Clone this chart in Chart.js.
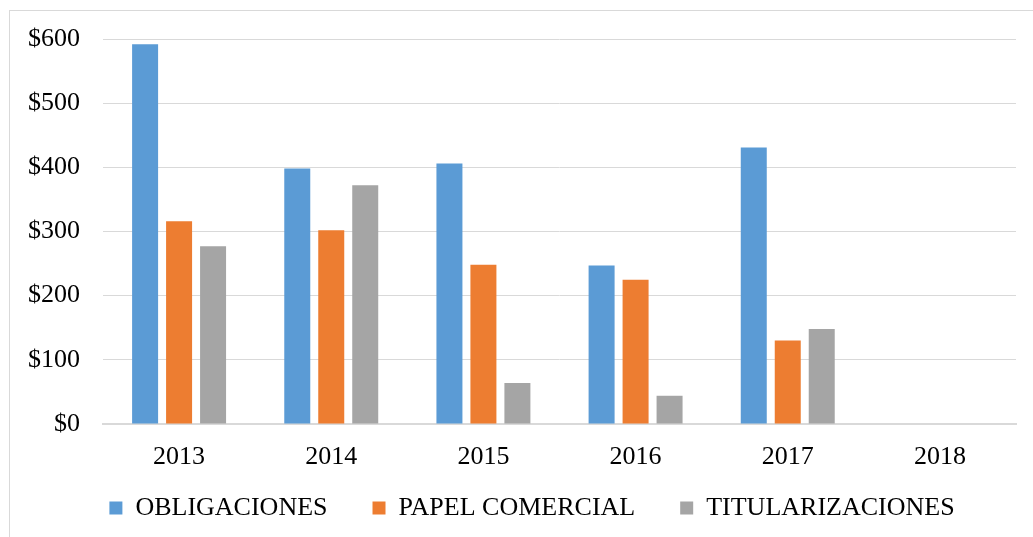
<!DOCTYPE html>
<html>
<head>
<meta charset="utf-8">
<script src="https://cdn.jsdelivr.net/npm/chart.js@4/dist/chart.umd.min.js"></script>
<style>
  html, body { margin: 0; padding: 0; background: #ffffff; overflow: hidden; }
  #frame { position: absolute; left: 9px; top: 10px; width: 1100px; height: 600px; border: 1px solid #d9d9d9; }
  #chart { position: absolute; left: 0; top: 0; }
</style>
</head>
<body>
<div id="frame"></div>
<canvas id="chart" width="1033" height="537"></canvas>
<script>
const years = ["2013", "2014", "2015", "2016", "2017", "2018"];
const obligaciones = [592, 398, 406, 247, 431, null];
const papelComercial = [316, 302, 248, 225, 130, null];
const titularizaciones = [277, 372, 64, 44, 148, null];

const FONT = "'Liberation Serif', 'Times New Roman', serif";
const LEGEND_GAP = 26;   // x axis line -> legend box top
const LEGEND_SHIFT = 24; // legend sits a bit right of the canvas centre

// move the legend up under the year labels, like the original
const legendLift = {
  id: "legendLift",
  afterLayout(chart) {
    const legend = chart.legend;
    if (!legend) return;
    const shift = legend.top - (chart.chartArea.bottom + LEGEND_GAP);
    legend.top -= shift;
    legend.bottom -= shift;
    legend.left += LEGEND_SHIFT;
    legend.right += LEGEND_SHIFT;
  },
};

const ctx = document.getElementById("chart");

new Chart(ctx, {
  type: "bar",
  data: {
    labels: years,
    datasets: [
      { label: "OBLIGACIONES", data: obligaciones, backgroundColor: "#5b9bd5" },
      { label: "PAPEL COMERCIAL", data: papelComercial, backgroundColor: "#ed7d31" },
      { label: "TITULARIZACIONES", data: titularizaciones, backgroundColor: "#a5a5a5" },
    ],
  },
  plugins: [legendLift],
  options: {
    responsive: false,
    animation: false,
    categoryPercentage: 0.67,
    barPercentage: 0.765,
    layout: { padding: { top: 39, right: 17, left: 0, bottom: -26 } },
    plugins: {
      tooltip: { enabled: false },
      legend: {
        position: "bottom",
        labels: {
          color: "#000000",
          font: { family: FONT, size: 26 },
          boxWidth: 13,
          boxHeight: 13,
          padding: 45,
        },
      },
    },
    scales: {
      x: {
        grid: { display: false },
        border: { color: "#d9d9d9", width: 2 },
        ticks: { color: "#000000", font: { family: FONT, size: 26, lineHeight: 1 }, padding: 12 },
      },
      y: {
        min: 0,
        max: 600,
        grid: { color: "#d9d9d9", lineWidth: 1, drawTicks: false },
        border: { display: false },
        ticks: {
          stepSize: 100,
          color: "#000000",
          font: { family: FONT, size: 26 },
          padding: 23,
          callback: (value) => "$" + value,
        },
        afterFit: (scale) => { scale.width = 103; },
      },
    },
  },
});
</script>
</body>
</html>
